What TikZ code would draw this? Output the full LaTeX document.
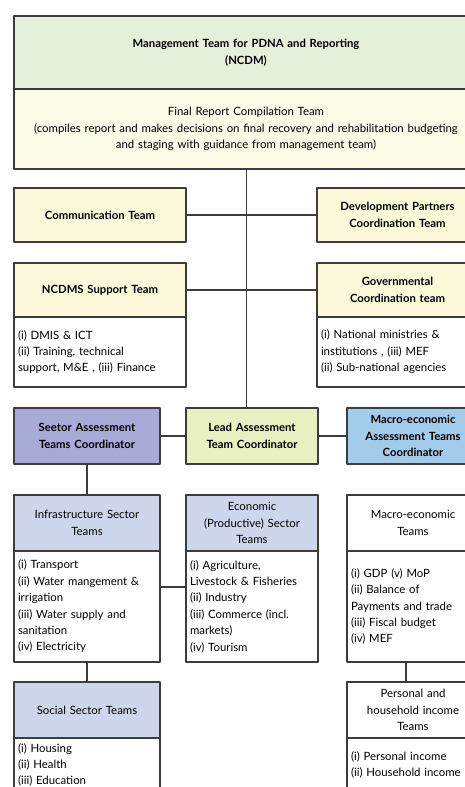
\documentclass[tikz,border=0pt]{standalone}
\usepackage{fontspec}
\setmainfont{Lato}
\usepackage{tikz}
\usetikzlibrary{calc}
\usepackage{xcolor}
\definecolor{edge}{RGB}{60,60,60}
\definecolor{mgmtgreen}{RGB}{228,240,218}
\definecolor{cream}{RGB}{252,251,232}
\definecolor{paleyellow}{RGB}{251,249,218}
\definecolor{lilac}{RGB}{168,170,215}
\definecolor{leadlime}{RGB}{232,239,192}
\definecolor{skyblue}{RGB}{163,203,234}
\definecolor{greyblue}{RGB}{205,214,235}

\begin{document}
\begin{tikzpicture}[x=1pt,y=-1pt,line join=round,
  box/.style={draw=edge,line width=1.1pt,anchor=north west,inner xsep=4pt,inner ysep=0pt,outer sep=0pt,
    align=center,font=\fontsize{11.4}{16.4}\selectfont},
  hbox/.style={box,font=\fontsize{11.3}{16.4}\selectfont\bfseries},
  lbox/.style={box,align=left,fill=white},
  wire/.style={draw=edge,line width=1.1pt}]
  \clip (0,0) rectangle (465,787);
  \fill[white] (0,0) rectangle (465,787);
  % top block
  \node[hbox,fill=mgmtgreen,text width=456pt,minimum height=73pt] (mgmt) at (14,16) {Management Team for PDNA and Reporting\\(NCDM)};
  \node[box,fill=cream,text width=456pt,minimum height=80pt] (final) at (14,89) {Final Report Compilation Team\\(compiles report and makes decisions on final recovery and rehabilitation budgeting\\and staging with guidance from management team)};
  % support teams
  \node[hbox,fill=paleyellow,text width=164pt,minimum height=54pt] (comm) at (14,188) {Communication Team};
  \node[hbox,fill=paleyellow,text width=153pt,minimum height=54pt] (devp) at (317,188) {Development Partners\\Coordination Team};
  \node[hbox,fill=paleyellow,text width=164pt,minimum height=54pt] (ncdmsh) at (14,263) {NCDMS Support Team};
  \node[lbox,text width=164pt,minimum height=70pt] (ncdmsb) at (14,317) {(i) DMIS \& ICT\\(ii) Training, technical\\support, M\&E , (iii) Finance};
  \node[hbox,fill=paleyellow,text width=153pt,minimum height=54pt] (govh) at (317,263) {Governmental\\Coordination team};
  \node[lbox,text width=153pt,minimum height=70pt] (govb) at (317,317) {(i) National ministries \&\\institutions , (iii) MEF\\(ii) Sub-national agencies};
  % coordinators
  \node[hbox,fill=lilac,text width=138pt,minimum height=56pt] (secc) at (14,408) {Seetor Assessment\\Teams Coordinator};
  \node[hbox,fill=leadlime,text width=124pt,minimum height=56pt] (lead) at (186,408) {Lead Assessment\\Team Coordinator};
  \node[hbox,fill=skyblue,text width=124pt,minimum height=56pt] (macc) at (347,408) {Macro-economic\\Assessment Teams\\Coordinator};
  % assessment teams
  \node[box,fill=greyblue,text width=138pt,minimum height=56pt] (infrah) at (14,495) {Infrastructure Sector\\Teams};
  \node[lbox,text width=138pt,minimum height=111pt] (infrab) at (14,551) {(i) Transport\\(ii) Water mangement \&\\irrigation\\(iii) Water supply and\\sanitation\\(iv) Electricity};
  \node[box,fill=greyblue,text width=124pt,minimum height=56pt] (econh) at (186,495) {Economic\\(Productive) Sector\\Teams};
  \node[lbox,text width=124pt,minimum height=111pt] (econb) at (186,551) {(i) Agriculture,\\Livestock \& Fisheries\\(ii) Industry\\(iii) Commerce (incl.\\markets)\\(iv) Tourism};
  \node[box,fill=white,text width=124pt,minimum height=56pt] (macth) at (347,495) {Macro-economic\\Teams};
  \node[lbox,text width=124pt,minimum height=111pt] (mactb) at (347,551) {(i) GDP (v) MoP\\(ii) Balance of\\Payments and trade\\(iii) Fiscal budget\\(iv) MEF};
  \node[box,fill=greyblue,text width=138pt,minimum height=56pt] (socialh) at (14,682) {Social Sector Teams};
  \node[lbox,text width=138pt,minimum height=54pt] (socialb) at (14,738) {(i) Housing\\(ii) Health\\(iii) Education};
  \node[box,fill=white,text width=124pt,minimum height=56pt] (persh) at (347,682) {Personal and\\household income\\Teams};
  \node[lbox,text width=124pt,minimum height=54pt] (persb) at (347,738) {(i) Personal income\\(ii) Household income};
  % connectors
  \coordinate (spine) at (246.7,0); \coordinate (ie) at (0,587); \coordinate (mp) at (406,0);
  \draw[wire] (final.south -| spine) -- (lead.north -| spine);
  \foreach \a/\b in {comm/devp,ncdmsh/govh,secc/lead,lead/macc} \draw[wire] (\a.east) -- (\b.west);
  \draw[wire] (secc.south) -- (infrah.north);
  \draw[wire] (infrab.south) -- (socialh.north);
  \draw[wire] (infrab.east |- ie) -- (econb.west |- ie);
  \draw[wire] (mactb.south -| mp) -- (persh.north -| mp);
\end{tikzpicture}
\end{document}
